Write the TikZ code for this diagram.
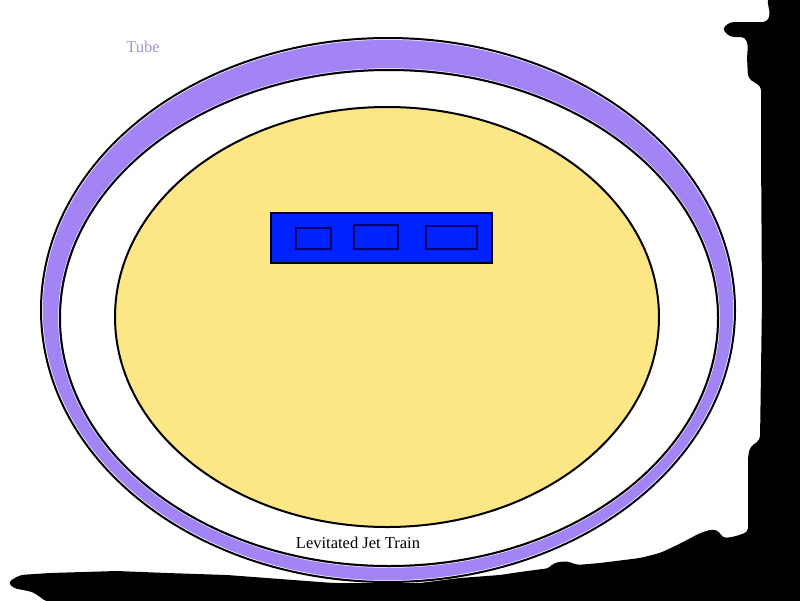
\documentclass[tikz,border=0pt]{standalone}
\usepackage{fontspec}
\setmainfont{Liberation Serif}
\definecolor{tubepurple}{HTML}{A284F5}
\definecolor{tubetext}{HTML}{A890D8}
\definecolor{trainyellow}{HTML}{FDE686}
\definecolor{trainblue}{HTML}{0022FF}
\definecolor{winnavy}{HTML}{000070}
\begin{document}
\begin{tikzpicture}[x=1pt,y=-1pt,
  ring/.style={line width=2pt,draw=black},
  windowbox/.style={draw=winnavy,line width=1.5pt},
  label/.style={inner sep=0pt,font=\fontsize{16.5}{18}\selectfont}]
\useasboundingbox[fill=white] (0,0) rectangle (800,600);
% tube ring
\fill[tubepurple] (388,310) ellipse [x radius=347pt, y radius=272pt];
\draw[ring] (388,310) ellipse [x radius=347pt, y radius=272pt];
\draw[white,line width=0.5pt] (388,310) ellipse [x radius=345.5pt, y radius=270.5pt];
\fill[white] (389,318) ellipse [x radius=329pt, y radius=248pt];
\draw[white,line width=0.5pt] (389,318) ellipse [x radius=330.5pt, y radius=249.5pt];
\draw[ring] (389,318) ellipse [x radius=329pt, y radius=248pt];
% train body
\filldraw[fill=trainyellow,ring] (387,317) ellipse [x radius=272pt, y radius=210pt];
\filldraw[fill=trainblue,draw=black,line width=2pt] (271,213) rectangle (492,263);
\draw[windowbox] (296,228) rectangle (331,249);
\draw[windowbox] (354,225) rectangle (398,249);
\draw[windowbox] (426,226) rectangle (477,249);
% labels
\node[label,text=tubetext] (tube) at (143,47) {Tube};
\node[label,text=black] (train) at (358,543) {Levitated Jet Train};
% black brush strokes
\fill[black,rounded corners=4pt]
  (800,-2) -- (767,-2) -- (770,15) -- (767,22) -- (730,22)
  -- (722,29) -- (730,37) -- (745,37) -- (748,45) -- (747,57)
  -- (748,78) -- (755,83) -- (761,86) -- (761,150) -- (762,300)
  -- (760,440) -- (750,447) -- (748,457) -- (748,532) -- (733,537)
  -- (722,538) -- (720,532) -- (713,529) -- (700,533) -- (687,540)
  -- (673,547) -- (660,553) -- (640,558) -- (600,563) -- (577,565)
  -- (567,561) -- (553,563) -- (550,568) -- (520,572) -- (500,575)
  -- (460,578) -- (420,583) -- (333,583) -- (227,575) -- (167,573)
  -- (117,571) -- (50,573) -- (20,575) -- (8,582) -- (13,588)
  -- (33,592) -- (47,602) -- (802,602) -- (802,-2) -- cycle;
\end{tikzpicture}
\end{document}
